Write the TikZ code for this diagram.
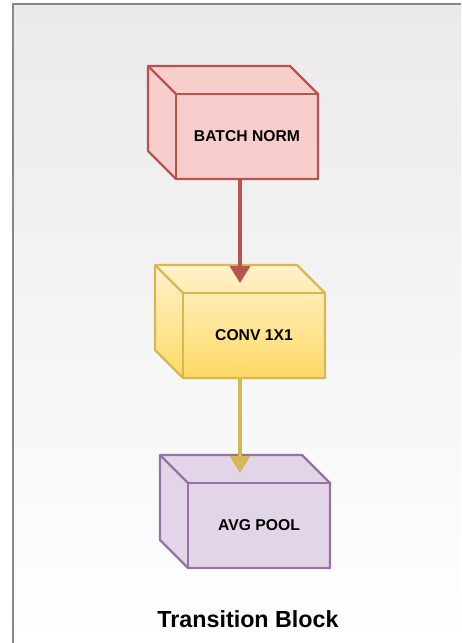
\documentclass[tikz,border=0pt]{standalone}
\usepackage{fontspec}
\setmainfont{Liberation Sans}
\usetikzlibrary{positioning}
\usetikzlibrary{arrows.meta}
\usetikzlibrary{backgrounds}
\definecolor{bnfill}{HTML}{F8CECC}
\definecolor{bnline}{HTML}{B85450}
\definecolor{convtop}{HTML}{FFF2CC}
\definecolor{convbot}{HTML}{FFD966}
\definecolor{convline}{HTML}{D6B656}
\definecolor{poolfill}{HTML}{E1D5E7}
\definecolor{poolline}{HTML}{9673A6}
\definecolor{pagetop}{HTML}{EAEAEA}
\definecolor{pageline}{HTML}{888888}
\tikzset{
  face/.style={draw, line width=2.4pt, minimum width=142pt, minimum height=85pt,
    inner sep=0pt, outer sep=0pt, font=\bfseries\fontsize{15.7}{18}\selectfont},
  flow/.style={-{Triangle[width=20pt,length=17pt]}, line width=3.5pt},
}

\begin{document}
\begin{tikzpicture}[x=1pt,y=-1pt]
\useasboundingbox (0,0) rectangle (461,643);
\node[face, draw=bnline] (bn) at (247,136.5) {\raisebox{-2.5pt}{BATCH NORM}};
\node[face, draw=convline] (conv) at (254,335.5) {\raisebox{-2pt}{CONV 1X1}};
\node[face, draw=poolline] (pool) at (259,525.5) {\raisebox{-2.5pt}{AVG POOL}};
\node[font=\bfseries\fontsize{23.3}{28}\selectfont] (title) at (248,619) {Transition Block};

\begin{scope}[on background layer]
\shade[top color=pagetop, bottom color=white] (13,4) rectangle (461,643);
\draw[pageline, line width=2pt] (13,643) -- (13,4) -- (461,4);
% depth of each cube
\foreach \b/\c/\d/\l in {bn/bnfill/bnfill/bnline, conv/convtop/convbot/convline, pool/poolfill/poolfill/poolline} {
  \shadedraw[top color=\c, bottom color=\d, draw=\l, line width=2.4pt, line join=round]
    (\b.south west) -- ++(-28,-28) -- ++(0,-85) -- ++(142,0) -- (\b.north east)
    -- (\b.south east) -- cycle;
  \draw[\l, line width=2.4pt] (\b.north west) -- ++(-28,-28);
}
\end{scope}

\draw[flow, bnline] ([xshift=-7pt]bn.south) -- ([xshift=-14pt,yshift=10pt]conv.north);
\draw[flow, convline] ([xshift=-14pt]conv.south) -- ([xshift=-19pt,yshift=10pt]pool.north);
\end{tikzpicture}
\end{document}
